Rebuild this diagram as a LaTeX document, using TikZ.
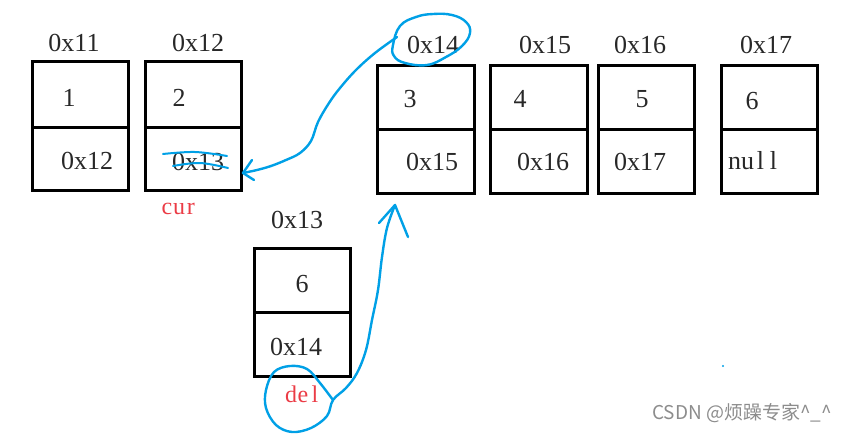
\documentclass[tikz,border=0pt]{standalone}
\usepackage{fontspec}
\setmainfont{Liberation Serif}
\newfontfamily\cjkfont{Noto Sans CJK SC}
\newcommand\mc[1]{\makebox[0.5em]{#1}}
\definecolor{ink}{RGB}{40,40,40}
\definecolor{pen}{RGB}{0,160,230}
\definecolor{redtxt}{RGB}{235,60,70}
\definecolor{wm}{RGB}{140,140,140}
\begin{document}
\begin{tikzpicture}[x=1pt,y=-1pt,
  cell/.style={draw=black, line width=3pt, minimum width=96pt, minimum height=64pt, inner sep=0pt, anchor=center},
  txt/.style={inner sep=0pt, text=ink, font=\fontsize{26}{30}\selectfont},
  ptr/.style={inner sep=0pt, text=redtxt, font=\fontsize{24}{28}\selectfont},
  stroke/.style={draw=pen, line width=2.4pt, line cap=round, line join=round}]
\useasboundingbox (0,0) rectangle (849,436);
% boxes
\node[cell, minimum height=65pt] (b1t) at (80,94.5) {};
\node[cell, minimum height=63pt] (b1b) at (80,158.5) {};
\node[cell, minimum height=65pt] (b2t) at (193,94.5) {};
\node[cell, minimum height=63pt] (b2b) at (193,158.5) {};
\node[cell, minimum width=97pt, minimum height=63.5pt] (b3t) at (425.5,97.75) {};
\node[cell, minimum width=97pt, minimum height=63.5pt] (b3b) at (425.5,161.25) {};
\node[cell, minimum width=97pt, minimum height=63.5pt] (b4t) at (538.5,97.75) {};
\node[cell, minimum width=97pt, minimum height=63.5pt] (b4b) at (538.5,161.25) {};
\node[cell, minimum height=63.5pt] (b5t) at (646,97.75) {};
\node[cell, minimum height=63.5pt] (b5b) at (646,161.25) {};
\node[cell, minimum height=63.5pt] (b6t) at (769,97.75) {};
\node[cell, minimum height=63.5pt] (b6b) at (769,161.25) {};
\node[cell] (bdt) at (302,280) {};
\node[cell] (bdb) at (302,344) {};
% address labels
\node[txt] (a11) at (74,43) {0x11};
\node[txt] (a12) at (198,43) {0x12};
\node[txt] (a14) at (433,45) {0x14};
\node[txt] (a15) at (545,45) {0x15};
\node[txt] (a16) at (640,45) {0x16};
\node[txt] (a17) at (766,45) {0x17};
\node[txt] (a13) at (297,220) {0x13};
% contents
\node[txt] (v1) at (69,98) {1};
\node[txt] (n1) at (87,161) {0x12};
\node[txt] (v2) at (179,98) {2};
\node[txt] (n2) at (198,162) {0x13};
\node[txt] (v3) at (410,99) {3};
\node[txt] (n3) at (432,162) {0x15};
\node[txt] (v4) at (520,99) {4};
\node[txt] (n4) at (543,162) {0x16};
\node[txt] (v5) at (642,99) {5};
\node[txt] (n5) at (640,162) {0x17};
\node[txt] (v6) at (752,101) {6};
\node[txt] (n6) at (754,161) {\mc{n}\mc{u}\mc{l}\mc{l}};
\node[txt] (vd) at (302,284) {6};
\node[txt] (nd) at (296,347) {0x14};
% pointer names
\node[ptr] (cur) at (179,209) {\mc{c}\mc{u}\mc{r}};
\node[ptr] (del) at (303,394) {\mc{d}\mc{e}\mc{l}};
% watermark
\node[inner sep=0pt, text=wm, font=\cjkfont\fontsize{19}{22}\selectfont] (wmk) at (742,413) {CSDN @烦躁专家\^{}\_\^{}};
% hand-drawn marks
\coordinate (e14) at (397,37);
\coordinate (tip1) at (243,173);
\coordinate (ld) at (333,400);
\coordinate (tip2) at (395,205);
% ellipse around 0x14
\draw[stroke] plot[smooth cycle, tension=0.7] coordinates {(393,45) (400,26) (416,17) (433,14) (452,15) (466,22) (470,33) (462,46) (446,57) (427,65) (405,63) (394,56)};
% curve to node 0x12
\draw[stroke] plot[smooth, tension=0.6] coordinates {(e14) (375,53) (356,70) (340,88) (329,103) (318,122) (311,141) (300,153) (286,160) (271,166) (257,170) (tip1)};
\draw[stroke] (252,160) -- (tip1) -- (254,180);
% strike-through on 0x13
\draw[stroke, line width=2pt] plot[smooth, tension=0.6] coordinates {(163,154) (195,152) (227,156)};
\draw[stroke, line width=2pt] plot[smooth, tension=0.6] coordinates {(173,166) (200,163) (228,168)};
% loop around del and curve to node 0x14
\draw[stroke] plot[smooth, tension=0.6] coordinates {(ld) (320,383) (307,369) (290,366) (274,372) (266,390) (266,408) (276,425) (292,432) (311,428) (327,416) (ld) (346,388) (357,373) (366,350) (372,320) (378,290) (382,257) (387,228) (tip2)};
\draw[stroke] (379,223) -- (tip2) -- (408,237);
% stray dot
\fill[pen] (723,366) circle (1.1pt);
\end{tikzpicture}
\end{document}
